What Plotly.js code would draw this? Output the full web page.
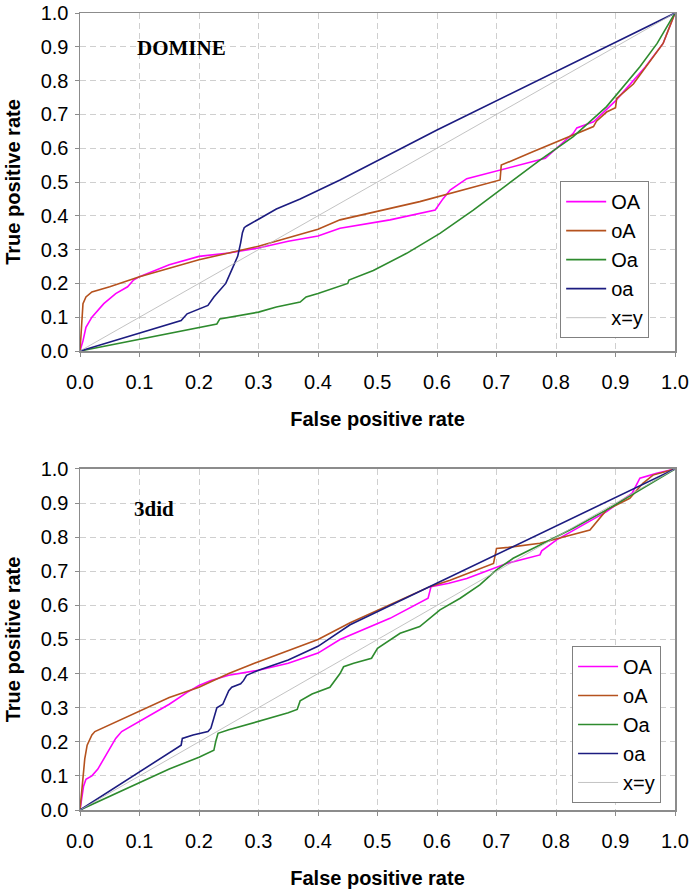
<!DOCTYPE html>
<html>
<head>
<meta charset="utf-8">
<script src="https://cdn.plot.ly/plotly-3.0.1.min.js"></script>
<style>html,body{margin:0;padding:0;background:#fff;}#chart{width:695px;height:892px;}</style>
</head>
<body>
<div id="chart"></div>
<script>
// ---- DOMINE (top panel) ----
const domOA_x = [0, 0.005, 0.01, 0.02, 0.04, 0.06, 0.08, 0.09, 0.1, 0.15, 0.2, 0.25, 0.3, 0.35, 0.4, 0.437, 0.521, 0.597, 0.61, 0.622, 0.65, 0.706, 0.751, 0.782, 0.829, 0.835, 0.863, 0.9, 0.95, 0.98, 1];
const domOA_y = [0, 0.03, 0.07, 0.1, 0.14, 0.17, 0.19, 0.21, 0.22, 0.255, 0.28, 0.29, 0.305, 0.325, 0.34, 0.363, 0.388, 0.417, 0.45, 0.476, 0.51, 0.535, 0.555, 0.57, 0.644, 0.66, 0.678, 0.74, 0.84, 0.91, 1];
const domoA_x = [0, 0.003, 0.005, 0.01, 0.02, 0.05, 0.1, 0.15, 0.2, 0.25, 0.3, 0.35, 0.4, 0.437, 0.571, 0.706, 0.708, 0.762, 0.863, 0.868, 0.885, 0.9, 0.902, 0.93, 0.96, 0.98, 1];
const domoA_y = [0, 0.1, 0.14, 0.16, 0.175, 0.19, 0.22, 0.245, 0.27, 0.29, 0.31, 0.335, 0.36, 0.388, 0.442, 0.506, 0.55, 0.59, 0.664, 0.68, 0.707, 0.72, 0.747, 0.79, 0.86, 0.91, 1];
const domOa_x = [0, 0.23, 0.235, 0.3, 0.33, 0.37, 0.38, 0.4, 0.45, 0.452, 0.493, 0.549, 0.605, 0.661, 0.717, 0.773, 0.829, 0.885, 0.941, 0.97, 1];
const domOa_y = [0, 0.08, 0.095, 0.115, 0.13, 0.145, 0.16, 0.17, 0.2, 0.21, 0.238, 0.289, 0.348, 0.417, 0.491, 0.565, 0.634, 0.723, 0.841, 0.91, 1];
const domoa_x = [0, 0.17, 0.18, 0.2, 0.215, 0.225, 0.235, 0.245, 0.255, 0.265, 0.27, 0.273, 0.276, 0.28, 0.3, 0.33, 0.37, 0.4, 0.437, 0.6, 1];
const domoa_y = [0, 0.09, 0.11, 0.125, 0.135, 0.16, 0.18, 0.2, 0.24, 0.28, 0.32, 0.35, 0.365, 0.37, 0.39, 0.42, 0.45, 0.475, 0.506, 0.654, 1];

// ---- 3did (bottom panel) ----
const didOA_x = [0, 0.003, 0.006, 0.01, 0.02, 0.03, 0.04, 0.05, 0.06, 0.07, 0.09, 0.1, 0.13, 0.15, 0.18, 0.2, 0.22, 0.25, 0.3, 0.35, 0.4, 0.437, 0.521, 0.585, 0.59, 0.62, 0.65, 0.717, 0.773, 0.776, 0.801, 0.84, 0.885, 0.928, 0.941, 0.969, 1];
const didOA_y = [0, 0.04, 0.07, 0.09, 0.1, 0.12, 0.15, 0.18, 0.21, 0.23, 0.25, 0.26, 0.29, 0.31, 0.345, 0.365, 0.38, 0.395, 0.41, 0.43, 0.46, 0.5, 0.562, 0.621, 0.655, 0.665, 0.679, 0.723, 0.748, 0.76, 0.792, 0.831, 0.875, 0.929, 0.973, 0.987, 1];
const didoA_x = [0, 0.003, 0.005, 0.008, 0.012, 0.02, 0.025, 0.05, 0.1, 0.15, 0.2, 0.25, 0.3, 0.4, 0.454, 0.588, 0.622, 0.695, 0.7, 0.72, 0.773, 0.857, 0.885, 0.924, 0.946, 0.963, 1];
const didoA_y = [0, 0.05, 0.1, 0.15, 0.19, 0.22, 0.23, 0.25, 0.29, 0.33, 0.36, 0.4, 0.435, 0.5, 0.549, 0.655, 0.674, 0.723, 0.767, 0.77, 0.782, 0.821, 0.88, 0.914, 0.958, 0.982, 1];
const didOa_x = [0, 0.15, 0.2, 0.225, 0.228, 0.232, 0.25, 0.3, 0.35, 0.365, 0.37, 0.39, 0.42, 0.437, 0.443, 0.46, 0.49, 0.5, 0.538, 0.571, 0.605, 0.639, 0.672, 0.7, 0.728, 0.773, 0.829, 0.885, 0.941, 1];
const didOa_y = [0, 0.12, 0.155, 0.175, 0.2, 0.225, 0.235, 0.26, 0.285, 0.295, 0.32, 0.34, 0.36, 0.4, 0.42, 0.43, 0.445, 0.474, 0.518, 0.538, 0.587, 0.621, 0.66, 0.704, 0.738, 0.777, 0.826, 0.88, 0.938, 1];
const didoa_x = [0, 0.17, 0.172, 0.19, 0.215, 0.22, 0.225, 0.23, 0.24, 0.245, 0.25, 0.255, 0.27, 0.275, 0.28, 0.3, 0.35, 0.4, 0.454, 1];
const didoa_y = [0, 0.19, 0.21, 0.22, 0.23, 0.24, 0.27, 0.3, 0.31, 0.33, 0.35, 0.36, 0.37, 0.38, 0.395, 0.41, 0.44, 0.48, 0.543, 1];

const diag = [0, 1];
const tickVals = [0, 0.1, 0.2, 0.3, 0.4, 0.5, 0.6, 0.7, 0.8, 0.9, 1.0];
const tickText = ['0.0', '0.1', '0.2', '0.3', '0.4', '0.5', '0.6', '0.7', '0.8', '0.9', '1.0'];
const names = ['OA', 'oA', 'Oa', 'oa', 'x=y'];
const colors = ['#ff00ff', '#b5521e', '#2e8b2e', '#1c1c80', '#b4b4b4'];

function tr(x, y, i, panel) {
  return {
    x: x, y: y, type: 'scatter', mode: 'lines', name: names[i],
    line: {color: colors[i], width: i === 4 ? 0.8 : 1.6},
    xaxis: panel === 1 ? 'x' : 'x2', yaxis: panel === 1 ? 'y' : 'y2',
    legend: panel === 1 ? 'legend' : 'legend2', hoverinfo: 'skip'
  };
}

const data = [
  tr(domOA_x, domOA_y, 0, 1), tr(domoA_x, domoA_y, 1, 1), tr(domOa_x, domOa_y, 2, 1), tr(domoa_x, domoa_y, 3, 1), tr(diag, diag, 4, 1),
  tr(didOA_x, didOA_y, 0, 2), tr(didoA_x, didoA_y, 1, 2), tr(didOa_x, didOa_y, 2, 2), tr(didoa_x, didoa_y, 3, 2), tr(diag, diag, 4, 2)
];

const font = 'Arial, "Liberation Sans", sans-serif';
function xax(anchor) {
  return {
    anchor: anchor, range: [0, 1], tickvals: tickVals, ticktext: tickText,
    showline: true, mirror: true, linecolor: '#8c8c8c', linewidth: 1.5,
    ticks: 'outside', ticklen: 4, tickcolor: '#8c8c8c',
    showgrid: true, gridcolor: '#cfcfcf', griddash: '6px,4px', gridwidth: 1,
    zeroline: false, ticklabelstandoff: 8,
    tickfont: {family: font, size: 20, color: '#000'},
    title: {text: '<b>False positive rate</b>', font: {family: font, size: 20, color: '#000'}, standoff: 20}
  };
}
function yax(anchor, dom) {
  return {
    anchor: anchor, domain: dom, range: [0, 1], tickvals: tickVals, ticktext: tickText,
    showline: true, mirror: true, linecolor: '#8c8c8c', linewidth: 1.5,
    ticks: 'outside', ticklen: 4, tickcolor: '#8c8c8c',
    showgrid: true, gridcolor: '#cfcfcf', griddash: '6px,4px', gridwidth: 1,
    zeroline: false, ticklabelstandoff: 2,
    tickfont: {family: font, size: 20, color: '#000'},
    title: {text: '<b>True positive rate</b>', font: {family: font, size: 20, color: '#000'}, standoff: 14}
  };
}
function leg(x, y) {
  return {
    x: x, y: y, xanchor: 'left', yanchor: 'top', xref: 'paper', yref: 'paper',
    bgcolor: '#fff', bordercolor: '#808080', borderwidth: 1,
    font: {family: font, size: 20, color: '#000'}, tracegroupgap: 0, itemwidth: 40
  };
}

const layout = {
  width: 695, height: 892,
  margin: {l: 80, r: 20, t: 13, b: 82},
  paper_bgcolor: '#fff', plot_bgcolor: '#fff',
  showlegend: true,
  xaxis: xax('y'),
  yaxis: yax('x', [0.5759, 1]),
  xaxis2: xax('y2'),
  yaxis2: yax('x2', [0, 0.4279]),
  legend: leg(0.807, 0.789),
  legend2: leg(0.827, 0.2058),
  annotations: [
    {text: '<b>DOMINE</b>', x: 0.092, y: 0.896, xref: 'x', yref: 'y', xanchor: 'left', yanchor: 'middle', showarrow: false, font: {family: '"Times New Roman", "Liberation Serif", serif', size: 21, color: '#000'}},
    {text: '<b>3did</b>', x: 0.087, y: 0.883, xref: 'x2', yref: 'y2', xanchor: 'left', yanchor: 'middle', showarrow: false, font: {family: '"Times New Roman", "Liberation Serif", serif', size: 21, color: '#000'}}
  ]
};

Plotly.newPlot('chart', data, layout, {staticPlot: true, displayModeBar: false});
</script>
</body>
</html>
